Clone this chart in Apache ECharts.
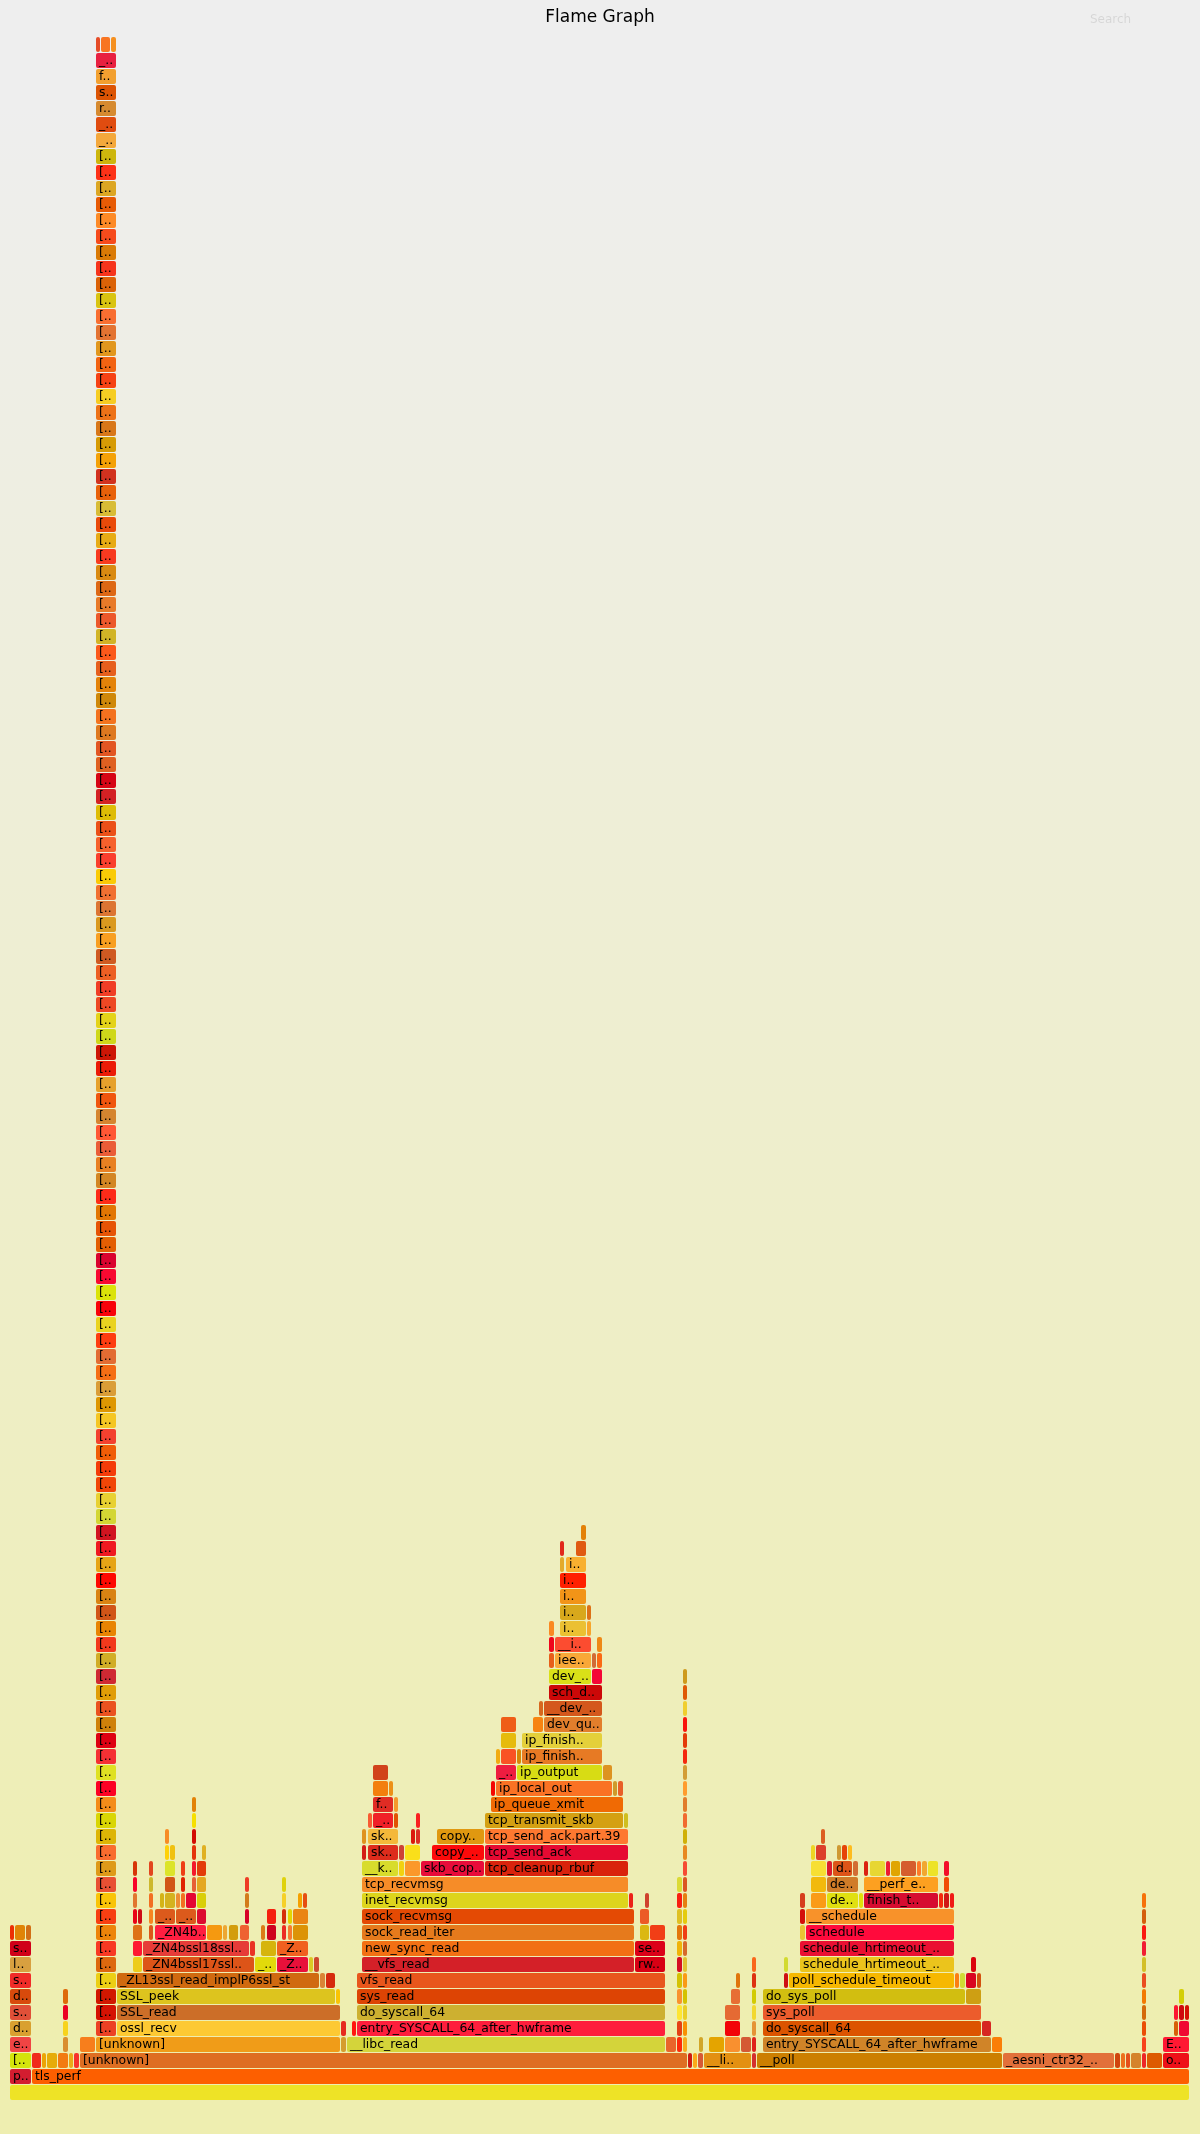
<!DOCTYPE html>
<html><head><meta charset="utf-8">
<script src="https://cdn.jsdelivr.net/npm/echarts@6/dist/echarts.min.js"></script>
<style>html,body{margin:0;padding:0;background:#eeeeee}#chart{width:1200px;height:2134px}</style>
</head><body><div id="chart"></div>
<script>
// Flame graph: each frame = [depth, firstSample, sampleCount, label]
const TOTAL_SAMPLES = 1180;
const MAX_DEPTH = 131;

const baseFrames = [
  [0,0,1180,""],
  [1,0,22,"p.."],[1,22,1158,"tls_perf"],
  [2,0,22,"[.."],[2,22,10,""],[2,32,5,""],[2,37,11,""],[2,48,11,""],[2,59,5,""],[2,64,6,""],
  [2,70,608,"[unknown]"],[2,678,5,""],[2,683,5,""],[2,688,6,""],[2,694,48,"__li.."],[2,742,5,""],
  [2,747,246,"__poll"],[2,993,112,"_aesni_ctr32_.."],[2,1105,6,""],[2,1111,5,""],[2,1116,5,""],
  [2,1121,11,""],[2,1132,5,""],[2,1137,16,""],[2,1153,27,"o.."],
  [3,0,22,"e.."],[3,53,6,""],[3,70,16,""],[3,86,245,"[unknown]"],[3,331,6,""],[3,337,319,"__libc_read"],
  [3,656,11,""],[3,667,6,""],[3,673,5,""],[3,689,5,""],[3,699,16,""],[3,715,16,""],[3,731,11,""],
  [3,742,5,""],[3,753,229,"entry_SYSCALL_64_after_hwframe"],[3,982,11,""],[3,1132,5,""],[3,1153,27,"E.."]
];

const sslFrames = [
  [4,0,22,"d.."],[5,0,22,"s.."],[6,0,22,"d.."],[7,0,22,"s.."],[8,0,22,"l.."],[9,0,22,"s.."],
  [10,0,5,""],[10,5,11,""],[10,16,6,""],
  [4,53,6,""],[5,53,6,""],[6,53,6,""],
  [4,107,224,"ossl_recv"],[4,331,6,""],
  [5,107,224,"SSL_read"],
  [6,107,219,"SSL_peek"],[6,326,5,""],
  [7,107,203,"_ZL13ssl_read_implP6ssl_st"],[7,310,6,""],[7,316,10,""],
  [8,123,10,""],[8,133,112,"_ZN4bssl17ssl.."],[8,245,22,"_.."],[8,267,32,"_Z.."],[8,299,5,""],[8,304,6,""],
  [9,123,10,""],[9,133,107,"_ZN4bssl18ssl.."],[9,240,6,""],[9,251,16,""],[9,267,32,"_Z.."],
  [10,123,10,""],[10,139,5,""],[10,145,52,"_ZN4b.."],[10,197,16,""],[10,213,5,""],[10,219,10,""],
  [10,230,10,""],[10,251,5,""],[10,257,10,""],[10,272,5,""],[10,278,5,""],[10,283,16,""],
  [11,123,5,""],[11,128,5,""],[11,139,5,""],[11,145,21,"_.."],[11,166,21,"_.."],[11,187,10,""],
  [11,235,5,""],[11,257,10,""],[11,272,5,""],[11,278,5,""],[11,283,16,""],
  [12,123,5,""],[12,139,5,""],[12,150,5,""],[12,155,11,""],[12,166,5,""],[12,171,5,""],[12,176,11,""],
  [12,187,10,""],[12,235,5,""],[12,272,5,""],[12,288,5,""],[12,293,5,""],
  [13,123,5,""],[13,139,5,""],[13,155,11,""],[13,171,5,""],[13,182,5,""],[13,187,10,""],[13,235,5,""],[13,272,5,""],
  [14,123,5,""],[14,139,5,""],[14,155,11,""],[14,171,5,""],[14,182,5,""],[14,187,10,""],
  [15,155,5,""],[15,160,6,""],[15,182,5,""],[15,192,5,""],
  [16,155,5,""],[16,182,5,""],
  [17,182,5,""],[18,182,5,""]
];

const readFrames = [
  [4,342,5,""],[4,347,309,"entry_SYSCALL_64_after_hwframe"],
  [5,347,309,"do_syscall_64"],
  [6,347,309,"sys_read"],
  [7,347,309,"vfs_read"],
  [8,352,273,"__vfs_read"],[8,625,31,"rw.."],
  [9,352,273,"new_sync_read"],[9,625,31,"se.."],
  [10,352,273,"sock_read_iter"],[10,630,10,""],[10,640,16,""],
  [11,352,273,"sock_recvmsg"],[11,630,10,""],
  [12,352,267,"inet_recvmsg"],[12,619,5,""],[12,635,5,""],
  [13,352,267,"tcp_recvmsg"],
  [14,352,37,"__k.."],[14,389,6,""],[14,395,16,""],[14,411,64,"skb_cop.."],[14,475,144,"tcp_cleanup_rbuf"],
  [15,352,5,""],[15,358,31,"sk.."],[15,389,6,""],[15,395,16,""],[15,422,53,"copy_.."],[15,475,144,"tcp_send_ack"],
  [16,352,5,""],[16,358,31,"sk.."],[16,401,5,""],[16,406,5,""],[16,427,48,"copy.."],[16,475,144,"tcp_send_ack.part.39"],
  [17,358,5,""],[17,363,21,"_.."],[17,384,5,""],[17,406,5,""],[17,475,139,"tcp_transmit_skb"],[17,614,5,""],
  [18,363,21,"f.."],[18,384,5,""],[18,481,133,"ip_queue_xmit"],
  [19,363,16,""],[19,379,5,""],[19,481,5,""],[19,486,117,"ip_local_out"],[19,603,5,""],[19,608,6,""],
  [20,363,16,""],[20,486,21,"_.."],[20,507,86,"ip_output"],[20,593,10,""],
  [21,486,5,""],[21,491,16,""],[21,507,5,""],[21,512,81,"ip_finish.."],
  [22,491,16,""],[22,512,81,"ip_finish.."],
  [23,491,16,""],[23,523,11,""],[23,534,59,"dev_qu.."],
  [24,529,5,""],[24,534,59,"__dev_.."],
  [25,539,54,"sch_d.."],
  [26,539,43,"dev_.."],[26,582,11,""],
  [27,539,6,""],[27,545,37,"iee.."],[27,582,5,""],[27,587,6,""],
  [28,539,6,""],[28,545,37,"__i.."],[28,587,6,""],
  [29,539,6,""],[29,550,27,"i.."],[29,577,5,""],
  [30,550,27,"i.."],[30,577,5,""],
  [31,550,27,"i.."],
  [32,550,27,"i.."],
  [33,550,5,""],[33,556,21,"i.."],
  [34,550,5,""],[34,566,11,""],
  [35,571,6,""]
];

const narrowStacks = [
  [4,667,6,""],[5,667,6,""],[6,667,6,""],[7,667,6,""],[8,667,6,""],[9,667,6,""],[10,667,6,""],
  [11,667,6,""],[12,667,6,""],[13,667,6,""],
  [4,673,5,""],[5,673,5,""],[6,673,5,""],[7,673,5,""],[8,673,5,""],[9,673,5,""],[10,673,5,""],
  [11,673,5,""],[12,673,5,""],[13,673,5,""],[14,673,5,""],[15,673,5,""],[16,673,5,""],[17,673,5,""],
  [18,673,5,""],[19,673,5,""],[20,673,5,""],[21,673,5,""],[22,673,5,""],[23,673,5,""],[24,673,5,""],
  [25,673,5,""],[26,673,5,""]
];

const pollFrames = [
  [4,715,16,""],[4,742,5,""],[4,753,219,"do_syscall_64"],[4,972,10,""],[4,1132,5,""],[4,1164,5,""],[4,1169,11,""],
  [5,715,16,""],[5,742,5,""],[5,753,219,"sys_poll"],[5,1132,5,""],[5,1164,5,""],[5,1169,6,""],[5,1175,5,""],
  [6,721,10,""],[6,742,5,""],[6,753,203,"do_sys_poll"],[6,956,16,""],[6,1132,5,""],[6,1169,6,""],
  [7,726,5,""],[7,742,5,""],[7,774,5,""],[7,779,166,"poll_schedule_timeout"],[7,945,5,""],[7,950,6,""],
  [7,956,11,""],[7,967,5,""],[7,1132,5,""],
  [8,742,5,""],[8,774,5,""],[8,790,155,"schedule_hrtimeout_.."],[8,961,6,""],[8,1132,5,""],
  [9,790,155,"schedule_hrtimeout_.."],[9,1132,5,""],
  [10,790,6,""],[10,796,149,"schedule"],[10,1132,5,""],
  [11,790,6,""],[11,796,149,"__schedule"],[11,1132,5,""],
  [12,790,6,""],[12,801,16,""],[12,817,32,"de.."],[12,849,5,""],[12,854,75,"finish_t.."],[12,929,5,""],
  [12,934,6,""],[12,940,5,""],[12,1132,5,""],
  [13,801,16,""],[13,817,32,"de.."],[13,854,75,"__perf_e.."],[13,934,6,""],
  [14,801,16,""],[14,817,6,""],[14,823,20,"d.."],[14,843,6,""],[14,854,5,""],[14,860,16,""],[14,876,5,""],
  [14,881,10,""],[14,891,16,""],[14,907,5,""],[14,912,6,""],[14,918,11,""],[14,934,6,""],
  [15,801,5,""],[15,806,11,""],[15,827,5,""],[15,832,6,""],[15,838,5,""],
  [16,811,5,""]
];

// deep call chain on top of [unknown] (depth 4 upward), all at samples 86..107
const towerStart = 86, towerSamples = 21;
const towerLabels = [
  "[..","[..","[..","[..","[..","[..","[..","[..","[..","[..",
  "[..","[..","[..","[..","[..","[..","[..","[..","[..","[..",
  "[..","[..","[..","[..","[..","[..","[..","[..","[..","[..",
  "[..","[..","[..","[..","[..","[..","[..","[..","[..","[..",
  "[..","[..","[..","[..","[..","[..","[..","[..","[..","[..",
  "[..","[..","[..","[..","[..","[..","[..","[..","[..","[..",
  "[..","[..","[..","[..","[..","[..","[..","[..","[..","[..",
  "[..","[..","[..","[..","[..","[..","[..","[..","[..","[..",
  "[..","[..","[..","[..","[..","[..","[..","[..","[..","[..",
  "[..","[..","[..","[..","[..","[..","[..","[..","[..","[..",
  "[..","[..","[..","[..","[..","[..","[..","[..","[..","[..",
  "[..","[..","[..","[..","[..","[..","[..","[..",
  "_..","_..","r..","s..","f..","_.."
];
const towerTop = [[128,86,5,""],[128,91,10,""],[128,101,6,""]];

// ---- styling ----
const frameColors = {
  "@0":"#eee326","p..@1":"#d31d30","tls_perf@1":"#fd5f00",
  "[..@2":"#d4e40c","[unknown]@2":"#de6e22","__li..@2":"#e39012","__poll@2":"#cc7f00",
  "_aesni_ctr32_..@2":"#e2703a","o..@2":"#ee1018",
  "e..@3":"#f04444","[unknown]@3":"#f09c18","__libc_read@3":"#d4d43a",
  "entry_SYSCALL_64_after_hwframe@3":"#d08428","E..@3":"#ff1832",
  "d..@4":"#d9a030","ossl_recv@4":"#fdc933","entry_SYSCALL_64_after_hwframe@4":"#fe1e3c","do_syscall_64@4":"#dc5400",
  "s..@5":"#e05038","SSL_read@5":"#cc6e28","do_syscall_64@5":"#cdb030","sys_poll@5":"#ec5c2c",
  "d..@6":"#d84a0c","SSL_peek@6":"#ddc41e","sys_read@6":"#dd4404","do_sys_poll@6":"#d2be10",
  "s..@7":"#f02c28","_ZL13ssl_read_implP6ssl_st@7":"#d06a10","vfs_read@7":"#e8561c","poll_schedule_timeout@7":"#f6b800",
  "l..@8":"#d8a040","_ZN4bssl17ssl..@8":"#dd5418","_..@8":"#e2da0a","_Z..@8":"#e8103a",
  "__vfs_read@8":"#d42028","rw..@8":"#d80014","schedule_hrtimeout_..@8":"#ebc41c",
  "s..@9":"#d00018","_ZN4bssl18ssl..@9":"#e63c38","_Z..@9":"#f06020","new_sync_read@9":"#f27014",
  "se..@9":"#dc0018","schedule_hrtimeout_..@9":"#ea1032",
  "_ZN4b..@10":"#ff1e40","sock_read_iter@10":"#e67a1c","schedule@10":"#ff0a3c",
  "_..@11":"#dc5a1c","sock_recvmsg@11":"#e44a04","__schedule@11":"#f8922a",
  "inet_recvmsg@12":"#ddd51c","de..@12":"#e0e010","finish_t..@12":"#d60c30",
  "tcp_recvmsg@13":"#f68c28","de..@13":"#d07c28","__perf_e..@13":"#fda020",
  "__k..@14":"#d8dc2c","skb_cop..@14":"#e80c3a","tcp_cleanup_rbuf@14":"#d9230c","d..@14":"#dd5418",
  "sk..@15":"#dd2c1c","copy_..@15":"#fc0a0a","tcp_send_ack@15":"#e60a32",
  "sk..@16":"#f4b83a","copy..@16":"#e09810","tcp_send_ack.part.39@16":"#fe7830",
  "_..@17":"#f02028","tcp_transmit_skb@17":"#d4a012",
  "f..@18":"#e02c24","ip_queue_xmit@18":"#f06a04",
  "ip_local_out@19":"#fa7224","_..@20":"#ee1c40","ip_output@20":"#d8dc14",
  "ip_finish..@21":"#e77a24","ip_finish..@22":"#e4d03a","dev_qu..@23":"#e27e2c","__dev_..@24":"#d4581c",
  "sch_d..@25":"#cc0808","dev_..@26":"#d9e018","iee..@27":"#f9a838","__i..@28":"#fc4c30",
  "i..@29":"#ebc032","i..@30":"#d8a81c","i..@31":"#f29418","i..@32":"#ff2000","i..@33":"#f8b030",
  "_..@122":"#f4a83c","_..@123":"#e04c10","r..@124":"#d68a30","s..@125":"#dc5404","f..@126":"#f2a030","_..@127":"#e82040"
};
function hotColor(depth, start) {
  let h = ((depth * 2654435761) ^ (start * 40503) ^ 0x5bd1e995) >>> 0;
  const rnd = () => { h = (Math.imul(h, 1103515245) + 12345) >>> 0; return ((h >>> 8) & 0xffff) / 65535; };
  rnd();
  const v1 = rnd(), v2 = rnd(), v3 = rnd();
  const r = Math.round(205 + 50 * v3), g = Math.round(230 * v1), b = Math.round(55 * v2);
  return 'rgb(' + r + ',' + g + ',' + b + ')';
}
function colorOf(f) {
  const key = f[3] + '@' + f[0];
  if (f[3] !== '[..' || f[0] === 2) { if (frameColors[key]) return frameColors[key]; }
  return hotColor(f[0], f[1]);
}

const frames = [].concat(baseFrames, sslFrames, readFrames, narrowStacks, pollFrames,
  towerLabels.map((lab, i) => [4 + i, towerStart, towerSamples, lab]), towerTop);

const FONT = '12.4px "DejaVu Sans", Verdana, sans-serif';
function renderFrame(params, api) {
  const f = frames[params.dataIndex];
  const tl = api.coord([f[1], f[0] + 1]);
  const br = api.coord([f[1] + f[2], f[0]]);
  const w = br[0] - tl[0] - 1, h = br[1] - tl[1] - 1;
  const children = [{ type: 'rect', shape: { x: tl[0], y: tl[1], width: w, height: h, r: 2 },
    style: { fill: colorOf(f) } }];
  if (f[3]) {
    children.push({ type: 'text', style: { text: f[3], x: tl[0] + 3, y: tl[1] + h / 2 + 0.5,
      font: FONT, fill: '#000', textAlign: 'left', textVerticalAlign: 'middle' } });
  }
  return { type: 'group', children };
}

const chart = echarts.init(document.getElementById('chart'), null, { renderer: 'canvas' });
chart.setOption({
  animation: false,
  backgroundColor: 'transparent',
  grid: { left: 10, right: 10, top: 5, bottom: 33 },
  xAxis: { type: 'value', min: 0, max: TOTAL_SAMPLES, show: false },
  yAxis: { type: 'value', min: 0, max: MAX_DEPTH, show: false },
  graphic: [
    { type: 'rect', z: -100, silent: true, shape: { x: 0, y: 0, width: 1200, height: 2134 },
      style: { fill: { type: 'linear', x: 0, y: 0, x2: 0, y2: 1,
        colorStops: [{ offset: 0, color: '#eeeeee' }, { offset: 0.05, color: '#eeeeee' },
                     { offset: 0.95, color: '#eeeeb0' }, { offset: 1, color: '#eeeeb0' }] } } },
    { type: 'text', z: 100, silent: true, style: { text: 'Flame Graph', x: 600, y: 18,
      font: '17px "DejaVu Sans", Verdana, sans-serif', fill: '#000', textAlign: 'center', textVerticalAlign: 'middle' } },
    { type: 'text', z: 100, silent: true, style: { text: 'Search', x: 1090, y: 20,
      font: '12px "DejaVu Sans", Verdana, sans-serif', fill: 'rgba(0,0,0,0.1)', textAlign: 'left', textVerticalAlign: 'middle' } }
  ],
  series: [{
    type: 'custom',
    silent: true,
    coordinateSystem: 'cartesian2d',
    renderItem: renderFrame,
    data: frames.map(f => [f[1], f[0], f[1] + f[2]]),
    encode: { x: [0, 2], y: 1 },
    clip: false
  }]
});
</script>
</body></html>
